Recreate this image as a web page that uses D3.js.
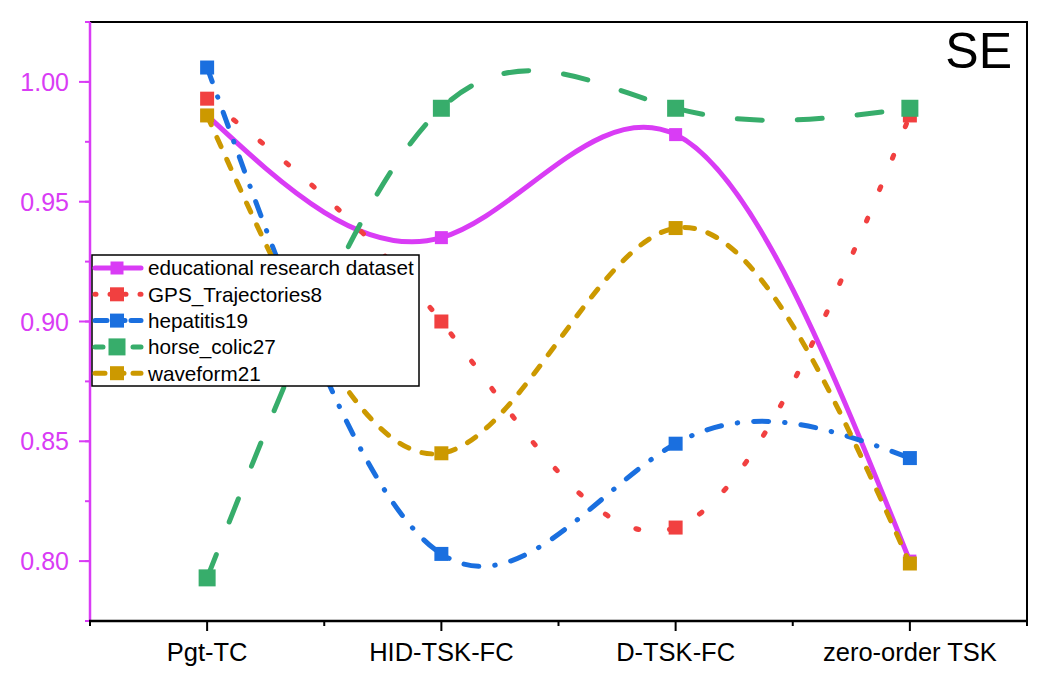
<!DOCTYPE html>
<html>
<head>
<meta charset="utf-8">
<script src="https://cdn.jsdelivr.net/npm/d3@7"></script>
<style>
  body { margin: 0; background: #fff; }
  text { font-family: "Liberation Sans", Arial, sans-serif; }
</style>
</head>
<body>
<svg id="chart"></svg>
<script>
// categories on the x axis
var methods = ["Pgt-TC", "HID-TSK-FC", "D-TSK-FC", "zero-order TSK"];

// SE values, one array per dataset
var educational = [0.986, 0.935, 0.978, 0.800];
var gps = [0.993, 0.900, 0.814, 0.986];
var hepatitis = [1.006, 0.803, 0.849, 0.843];
var horseColic = [0.793, 0.989, 0.989, 0.989];
var waveform = [0.986, 0.845, 0.939, 0.799];

var seriesNames = ["educational research dataset", "GPS_Trajectories8", "hepatitis19", "horse_colic27", "waveform21"];
var seriesValues = [educational, gps, hepatitis, horseColic, waveform];

var yTicks = [0.80, 0.85, 0.90, 0.95, 1.00];

// line styles per series (legend gets its own shorter dash)
var styles = [
  {color: "#d93cf5", dash: null, legendDash: null, width: 5, marker: 13},
  {color: "#f14040", dash: "3,31", legendDash: "1,14", width: 5, marker: 14},
  {color: "#1a6fdf", dash: "15,16,0.5,16", legendDash: "12,6", width: 5, marker: 14},
  {color: "#37ad6b", dash: "25,35", legendDash: "8,11", width: 5, marker: 17},
  {color: "#cc9900", dash: "10,14", legendDash: "10,9", width: 5, marker: 14}
];

var W = 1049, H = 686;
var svg = d3.select("#chart").attr("width", W).attr("height", H);

// plot area
var plotLeft = 90, plotRight = 1027, plotTop = 22, plotBottom = 621;

var x = d3.scaleLinear().domain([0.5, 4.5]).range([plotLeft, plotRight]);
var y = d3.scaleLinear().domain([0.775, 1.025]).range([plotBottom, plotTop]);

// frame: top and right in black
svg.append("path")
  .attr("d", "M" + plotLeft + "," + plotTop + "H" + plotRight + "V" + plotBottom)
  .attr("fill", "none")
  .attr("stroke", "black")
  .attr("stroke-width", 2);

// left axis (magenta)
var yAxis = svg.append("g").attr("transform", "translate(" + plotLeft + ",0)");
yAxis.append("line")
  .attr("y1", plotTop).attr("y2", plotBottom)
  .attr("stroke", "#d93cf5").attr("stroke-width", 2.5);
var yMinor = d3.range(0, 11).map(i => 0.775 + i * 0.025);
yAxis.selectAll(".ymin").data(yMinor).enter().append("line")
  .attr("x1", -5).attr("x2", 0)
  .attr("y1", d => y(d)).attr("y2", d => y(d))
  .attr("stroke", "#d93cf5").attr("stroke-width", 2);
yAxis.selectAll(".ymaj").data(yTicks).enter().append("line")
  .attr("x1", -11).attr("x2", 0)
  .attr("y1", d => y(d)).attr("y2", d => y(d))
  .attr("stroke", "#d93cf5").attr("stroke-width", 2);
yAxis.selectAll(".ylab").data(yTicks).enter().append("text")
  .attr("x", -21)
  .attr("y", d => y(d))
  .attr("dy", "0.36em")
  .attr("text-anchor", "end")
  .attr("fill", "#d93cf5")
  .style("font-size", "25px")
  .text(d => d3.format(".2f")(d));

// bottom axis (black)
var xAxis = svg.append("g").attr("transform", "translate(0," + plotBottom + ")");
xAxis.append("line")
  .attr("x1", plotLeft - 1).attr("x2", plotRight + 1)
  .attr("stroke", "black").attr("stroke-width", 2.5);
xAxis.selectAll(".xmin").data([0.5, 1.5, 2.5, 3.5, 4.5]).enter().append("line")
  .attr("x1", d => x(d)).attr("x2", d => x(d))
  .attr("y1", 0).attr("y2", 5)
  .attr("stroke", "black").attr("stroke-width", 2);
xAxis.selectAll(".xmaj").data(methods).enter().append("line")
  .attr("x1", (d, i) => x(i + 1)).attr("x2", (d, i) => x(i + 1))
  .attr("y1", 0).attr("y2", 10)
  .attr("stroke", "black").attr("stroke-width", 2);
xAxis.selectAll(".xlab").data(methods).enter().append("text")
  .attr("x", (d, i) => x(i + 1))
  .attr("y", 40)
  .attr("text-anchor", "middle")
  .attr("fill", "black")
  .style("font-size", "25.5px")
  .text(d => d);

// smoothed lines through the points
var line = d3.line()
  .x((d, i) => x(i + 1))
  .y(d => y(d))
  .curve(d3.curveNatural);

seriesValues.forEach(function(vals, k) {
  var s = styles[k];
  var g = svg.append("g");
  g.append("path")
    .datum(vals)
    .attr("d", line)
    .attr("fill", "none")
    .attr("stroke", s.color)
    .attr("stroke-width", s.width)
    .attr("stroke-linecap", s.dash ? "round" : "butt")
    .attr("stroke-dasharray", s.dash);
  g.selectAll("rect").data(vals).enter().append("rect")
    .attr("x", (d, i) => x(i + 1) - s.marker / 2)
    .attr("y", d => y(d) - s.marker / 2)
    .attr("width", s.marker)
    .attr("height", s.marker)
    .attr("fill", s.color);
});

// legend
var lx = 92, ly = 255, lw = 327, lh = 131;
var legend = svg.append("g");
legend.append("rect")
  .attr("x", lx).attr("y", ly)
  .attr("width", lw).attr("height", lh)
  .attr("fill", "white")
  .attr("stroke", "black")
  .attr("stroke-width", 1.5);

seriesNames.forEach(function(name, k) {
  var s = styles[k];
  var cy = ly + 13 + k * 26.3;
  legend.append("line")
    .attr("x1", lx + 3).attr("x2", lx + 49)
    .attr("y1", cy).attr("y2", cy)
    .attr("stroke", s.color)
    .attr("stroke-width", s.width)
    .attr("stroke-linecap", "round")
    .attr("stroke-dasharray", s.legendDash);
  legend.append("rect")
    .attr("x", lx + 25 - s.marker / 2)
    .attr("y", cy - s.marker / 2)
    .attr("width", s.marker).attr("height", s.marker)
    .attr("fill", s.color);
  legend.append("text")
    .attr("x", lx + 56)
    .attr("y", cy)
    .attr("dy", "0.36em")
    .style("font-size", "20.7px")
    .attr("fill", "black")
    .text(name);
});

// panel label
svg.append("text")
  .attr("x", 1012)
  .attr("y", 68)
  .attr("text-anchor", "end")
  .style("font-size", "50px")
  .attr("fill", "black")
  .text("SE");
</script>
</body>
</html>
